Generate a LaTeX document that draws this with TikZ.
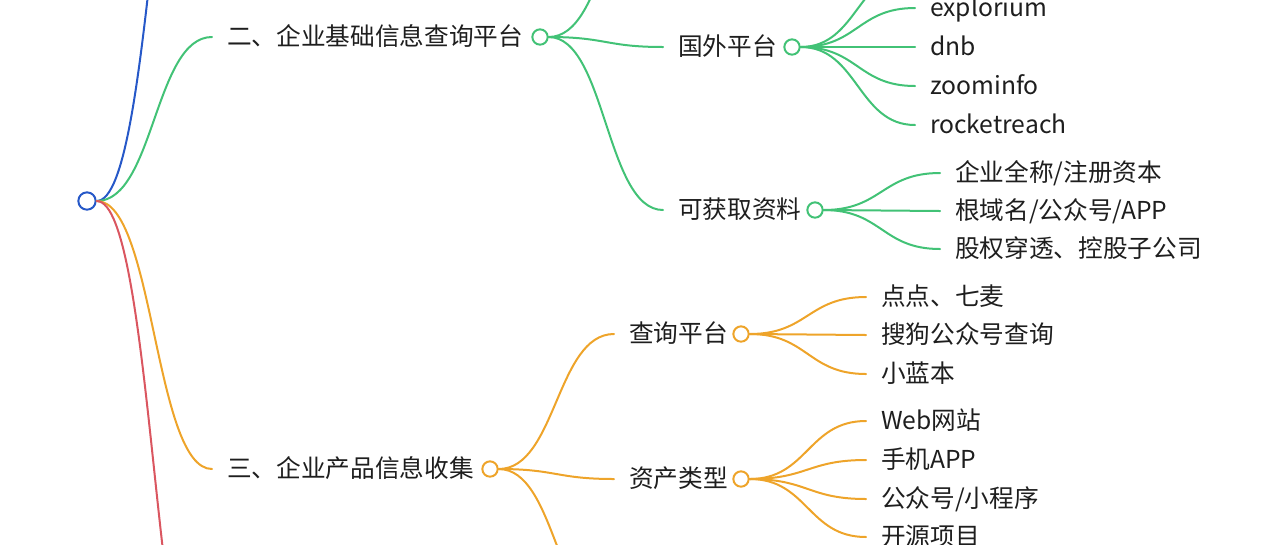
\documentclass[tikz,border=0pt]{standalone}
\usepackage{fontspec}
\setmainfont{Noto Sans CJK SC}
\usetikzlibrary{calc}
\definecolor{mmblue}{RGB}{38,88,200}
\definecolor{mmgreen}{RGB}{66,194,118}
\definecolor{mmorange}{RGB}{238,164,42}
\definecolor{mmred}{RGB}{218,86,96}
\definecolor{mmtext}{RGB}{30,30,30}

\begin{document}
\begin{tikzpicture}[x=0.75pt, y=-0.75pt,
  every node/.style={font=\fontsize{18.5}{22}\selectfont, text=mmtext},
  topic/.style={anchor=west, inner xsep=0pt, inner ysep=0pt, outer xsep=11.25pt, text height=13pt, text depth=1pt},
  knob/.style={circle, draw=#1, line width=1.5pt, fill=white, inner sep=0pt, minimum size=11.5pt},
  link/.style={line width=1.5pt, line cap=round, to path={let \p1=(\tikztostart), \p2=(\tikztotarget) in .. controls ({0.5*\x1+0.5*\x2},\y1) and ({0.5*\x1+0.5*\x2},\y2) .. (\tikztotarget)}}]
\useasboundingbox (0,0) rectangle (1280,544);
\clip (0,0) rectangle (1280,544);

% root and first level
\node[knob=mmblue, minimum size=13pt] (root) at (87,201) {};
\coordinate (c1) at (212,-326);
\coordinate (c4) at (212,742);
\node[topic] (t2) at (212,37) {二、企业基础信息查询平台};
\node[knob=mmgreen] (k2) at (540,37) {};
\node[topic] (t3) at (212,469) {三、企业产品信息收集};
\node[knob=mmorange] (k3) at (490,469) {};

% second level, green
\coordinate (c21) at (665,-123);
\node[topic] (t22) at (663,47) {国外平台};
\node[knob=mmgreen] (k22) at (792,47) {};
\node[topic] (t23) at (663,210) {可获取资料};
\node[knob=mmgreen] (k23) at (815,210) {};

\coordinate (c220) at (915,-30);
\node[topic] (t221) at (915,8) {explorium};
\node[topic] (t222) at (915,47) {dnb};
\node[topic] (t223) at (915,86) {zoominfo};
\node[topic] (t224) at (915,125) {rocketreach};

\node[topic] (t231) at (940,173) {企业全称/注册资本};
\node[topic] (t232) at (940,211) {根域名/公众号/APP};
\node[topic] (t233) at (940,249) {股权穿透、控股子公司};

% second level, orange
\node[topic] (t31) at (614,334) {查询平台};
\node[knob=mmorange] (k31) at (741,334) {};
\node[topic] (t32) at (614,479) {资产类型};
\node[knob=mmorange] (k32) at (741,479) {};
\coordinate (c33) at (614,619);

\node[topic] (t311) at (866,297) {点点、七麦};
\node[topic] (t312) at (866,335) {搜狗公众号查询};
\node[topic] (t313) at (866,374) {小蓝本};

\node[topic] (t321) at (866,421) {Web网站};
\node[topic] (t322) at (866,460) {手机APP};
\node[topic] (t323) at (866,499) {公众号/小程序};
\node[topic] (t324) at (866,537) {开源项目};

% links
\draw[link, mmblue] (root.east) to (c1);
\draw[link, mmgreen] (root.east) to (t2.west);
\draw[link, mmorange] (root.east) to (t3.west);
\draw[link, mmred] (root.east) to (c4);

\draw[link, mmgreen] (k2.east) to (c21);
\draw[link, mmgreen] (k2.east) to (t22.west);
\draw[link, mmgreen] (k2.east) to (t23.west);
\draw[link, mmgreen] (k22.east) to (c220);
\foreach \t in {t221,t222,t223,t224}
  \draw[link, mmgreen] (k22.east) to (\t.west);
\foreach \t in {t231,t232,t233}
  \draw[link, mmgreen] (k23.east) to (\t.west);

\draw[link, mmorange] (k3.east) to (t31.west);
\draw[link, mmorange] (k3.east) to (t32.west);
\draw[link, mmorange] (k3.east) to (c33);
\foreach \t in {t311,t312,t313}
  \draw[link, mmorange] (k31.east) to (\t.west);
\foreach \t in {t321,t322,t323,t324}
  \draw[link, mmorange] (k32.east) to (\t.west);
\end{tikzpicture}
\end{document}
